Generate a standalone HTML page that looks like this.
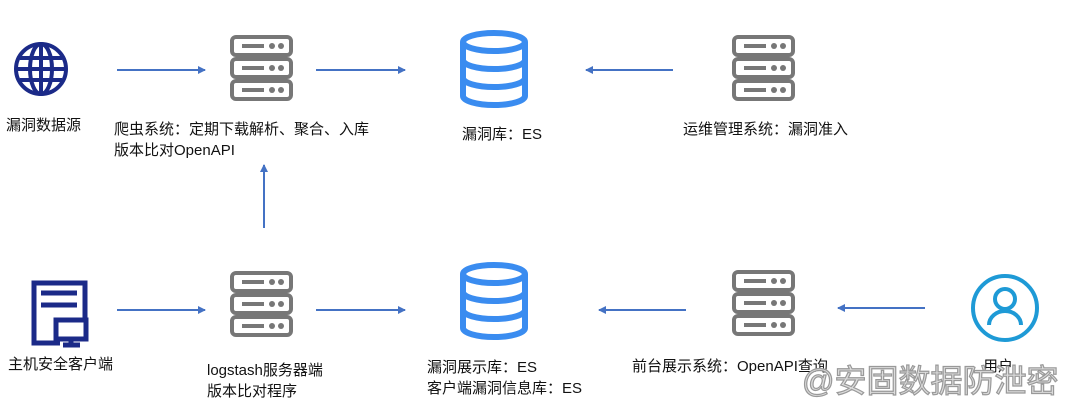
<!DOCTYPE html>
<html><head><meta charset="utf-8"><style>
html,body{margin:0;padding:0;background:#fff;}
body{width:1080px;height:414px;position:relative;overflow:hidden;font-family:"Liberation Sans","Noto Sans CJK SC",sans-serif;}
.t{position:absolute;font-size:15px;color:#111;line-height:21px;white-space:nowrap;}
.wm{position:absolute;left:802px;top:356px;font-size:32px;color:#ddd;-webkit-text-stroke:1.2px #999;white-space:nowrap;font-family:"Liberation Sans","Noto Sans CJK SC",sans-serif;}
</style></head><body>
<svg width="1080" height="414" style="position:absolute;left:0;top:0">
<defs>
<g id="srv" fill="none" stroke="#777" stroke-width="4">
<rect x="2" y="2" width="59" height="18" rx="4"/>
<rect x="2" y="24" width="59" height="18" rx="4"/>
<rect x="2" y="46" width="59" height="18" rx="4"/>
<line x1="12" y1="11" x2="34" y2="11"/><line x1="12" y1="33" x2="34" y2="33"/><line x1="12" y1="55" x2="34" y2="55"/>
<g fill="#777" stroke="none"><circle cx="42" cy="11" r="3"/><circle cx="51" cy="11" r="3"/><circle cx="42" cy="33" r="3"/><circle cx="51" cy="33" r="3"/><circle cx="42" cy="55" r="3"/><circle cx="51" cy="55" r="3"/></g>
</g>
<g id="db" fill="none" stroke="#3a8cf0" stroke-width="6">
<ellipse cx="34" cy="12" rx="31" ry="9"/>
<path d="M3 12 V66 A31 9 0 0 0 65 66 V12"/>
<path d="M3 30 A31 9 0 0 0 65 30"/>
<path d="M3 48 A31 9 0 0 0 65 48"/>
</g>
<marker id="ah" markerWidth="8" markerHeight="8" refX="7" refY="4" orient="auto" markerUnits="userSpaceOnUse"><path d="M0 0 L8 4 L0 8 Z" fill="#4472c4"/></marker>
</defs>
<!-- globe -->
<g fill="none" stroke="#1b2a88" stroke-width="4">
<circle cx="41" cy="69" r="25"/>
<ellipse cx="41" cy="69" rx="11" ry="25"/>
<line x1="41" y1="44" x2="41" y2="94"/>
<line x1="16" y1="69" x2="66" y2="69"/>
<line x1="20" y1="58" x2="62" y2="58"/>
<line x1="20" y1="80" x2="62" y2="80"/>
</g>
<!-- client -->
<g fill="none" stroke="#1b2a88" stroke-width="5">
<path d="M60 343 H34 V283 H85 V318"/>
<line x1="41" y1="293" x2="77" y2="293"/>
<line x1="41" y1="305" x2="77" y2="305"/>
<rect x="56" y="320" width="30" height="19"/>
<line x1="71" y1="339" x2="71" y2="345"/><line x1="63" y1="345" x2="80" y2="345"/>
</g>
<use href="#srv" x="230" y="35"/>
<use href="#srv" x="732" y="35"/>
<use href="#srv" x="230" y="271"/>
<use href="#srv" x="732" y="270"/>
<use href="#db" x="460" y="30"/>
<use href="#db" x="460" y="262"/>
<!-- user -->
<g fill="none" stroke="#1e9ad6" stroke-width="4">
<circle cx="1005" cy="308" r="32"/>
<circle cx="1005" cy="299" r="10"/>
<path d="M989 325 A16 14 0 0 1 1021 325"/>
</g>
<g stroke="#4472c4" stroke-width="2" fill="none">
<line x1="117" y1="70" x2="205" y2="70" marker-end="url(#ah)"/>
<line x1="316" y1="70" x2="405" y2="70" marker-end="url(#ah)"/>
<line x1="673" y1="70" x2="586" y2="70" marker-end="url(#ah)"/>
<line x1="264" y1="228" x2="264" y2="165" marker-end="url(#ah)"/>
<line x1="117" y1="310" x2="205" y2="310" marker-end="url(#ah)"/>
<line x1="316" y1="310" x2="405" y2="310" marker-end="url(#ah)"/>
<line x1="686" y1="310" x2="599" y2="310" marker-end="url(#ah)"/>
<line x1="925" y1="308" x2="838" y2="308" marker-end="url(#ah)"/>
</g>
</svg>
<div class="t" style="left:6px;top:115px">漏洞数据源</div>
<div class="t" style="left:114px;top:119px">爬虫系统：定期下载解析、聚合、入库<br>版本比对OpenAPI</div>
<div class="t" style="left:462px;top:124px">漏洞库：ES</div>
<div class="t" style="left:683px;top:119px">运维管理系统：漏洞准入</div>
<div class="t" style="left:8px;top:354px">主机安全客户端</div>
<div class="t" style="left:207px;top:360px">logstash服务器端<br>版本比对程序</div>
<div class="t" style="left:427px;top:357px">漏洞展示库：ES<br>客户端漏洞信息库：ES</div>
<div class="t" style="left:632px;top:356px">前台展示系统：OpenAPI查询</div>
<div class="t" style="left:983px;top:356px">用户</div>
<div class="wm">@安固数据防泄密</div>
</body></html>
